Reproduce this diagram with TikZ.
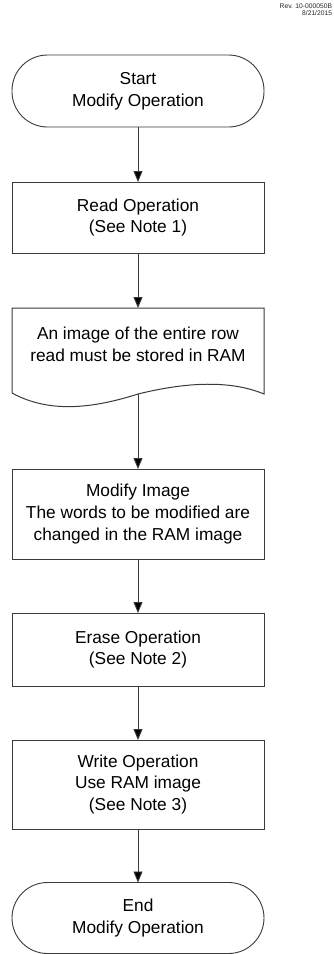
\documentclass[tikz,border=0pt]{standalone}
\usepackage{fontspec}
\setmainfont{Liberation Sans}
\usetikzlibrary{arrows.meta}
\definecolor{edge}{HTML}{3A3A3A}
\begin{document}
\begin{tikzpicture}[x=1pt,y=-1pt,
  every node/.style={inner sep=0pt, outer sep=0pt},
  txt/.style={font=\fontsize{17.3}{21.7}\selectfont, align=center, text=black},
  term/.style={txt, draw=edge, line width=0.9pt, minimum width=252pt, rounded corners=35.5pt},
  procbox/.style={txt, draw=edge, line width=1pt, minimum width=252pt},
  flow/.style={draw=edge, line width=0.9pt, -{Triangle[width=9pt,length=11pt,fill=black]}},
  revtxt/.style={font=\fontsize{6.7}{7.8}\selectfont, anchor=base east, text=black!85}
]
\useasboundingbox (0,0) rectangle (333,954);
\fill[white] (0,0) rectangle (333,954);

\node[revtxt] (rev1) at (332,8.3) {Rev. 10-000050B};
\node[revtxt] (rev2) at (332,15.8) {8/21/2015};

\node[term, minimum height=72pt] (start) at (138,91) {Start\\Modify Operation};
\node[procbox, minimum height=71pt] (read) at (138,217.5) {Read Operation\\(See Note 1)};

% document shape
\node[minimum width=252pt, minimum height=86pt] (doc) at (138,351) {};
\draw[edge, line width=1pt, fill=white] (12,308) -- (264,308) -- (264,394)
  .. controls (235,382) and (195,380) .. (138,394)
  .. controls (85,411) and (45,411) .. (12,393) -- cycle;
\node[txt] (doctext) at (138,344.5) {An image of the entire row\\read must be stored in RAM};

\node[procbox, minimum height=90pt] (modify) at (138,514) {Modify Image\\The words to be modified are\\changed in the RAM image};
\node[procbox, minimum height=73pt] (erase) at (138,649.5) {Erase Operation\\(See Note 2)};
\node[procbox, minimum height=89pt] (write) at (138,784.5) {Write Operation\\Use RAM image\\(See Note 3)};
\node[term, minimum height=71pt] (end) at (138,918) {End\\Modify Operation};

\draw[flow] (start) -- (read);
\draw[flow] (read) -- (doc);
\draw[flow] (doc) -- (modify);
\draw[flow] (modify) -- (erase);
\draw[flow] (erase) -- (write);
\draw[flow] (write) -- (end);
\end{tikzpicture}
\end{document}
